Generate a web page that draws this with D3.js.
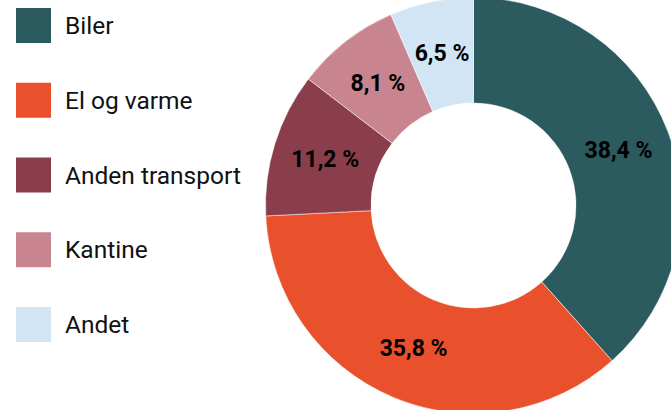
<!DOCTYPE html>
<html>
<head>
<meta charset="utf-8">
<script src="https://cdn.jsdelivr.net/npm/d3@7"></script>
<style>
  html, body { margin: 0; padding: 0; background: #fff; }
  svg { display: block; }
</style>
</head>
<body>
<svg id="chart" width="671" height="410"></svg>
<script>
const categories = ["Biler", "El og varme", "Anden transport", "Kantine", "Andet"];
const values = [38.4, 35.8, 11.2, 8.1, 6.5];
const labels = ["38,4 %", "35,8 %", "11,2 %", "8,1 %", "6,5 %"];
const colors = ["#2b5a5f", "#e9502c", "#8a3e4c", "#c8848f", "#d2e5f5"];

const width = 671, height = 410;
const cx = 473.5, cy = 205.5;
const outerR = 208, innerR = 102.5;

const svg = d3.select("#chart");
const data = categories.map((c, i) => ({ cat: c, value: values[i], label: labels[i], color: colors[i] }));

const pie = d3.pie().sort(null).value(d => d.value);
const arc = d3.arc().innerRadius(innerR).outerRadius(outerR);

const g = svg.append("g").attr("transform", `translate(${cx},${cy})`);
const arcs = pie(data);

g.selectAll("path.slice").data(arcs).join("path")
  .attr("class", "slice")
  .attr("d", arc)
  .attr("fill", d => d.data.color)
  .attr("stroke", "#ffffff")
  .attr("stroke-width", 0.5);

g.selectAll("text.lbl").data(arcs).join("text")
  .attr("class", "lbl")
  .attr("transform", d => `translate(${arc.centroid(d)})`)
  .attr("text-anchor", "middle")
  .attr("dominant-baseline", "central")
  .attr("font-family", "Roboto, sans-serif")
  .attr("font-weight", "bold")
  .attr("font-size", 23)
  .attr("fill", "#000")
  .text(d => d.data.label);

// Legend
const legend = svg.append("g");
const rowY = d3.scalePoint().domain(categories).range([8, 307]);
const item = legend.selectAll("g").data(data).join("g")
  .attr("transform", d => `translate(16,${rowY(d.cat)})`);
item.append("rect")
  .attr("width", 35).attr("height", 35)
  .attr("fill", d => d.color);
item.append("text")
  .attr("x", 49).attr("y", 26)
  .attr("font-family", "Roboto, sans-serif")
  .attr("font-size", 24.5)
  .attr("fill", "#111")
  .text(d => d.cat);
</script>
</body>
</html>
